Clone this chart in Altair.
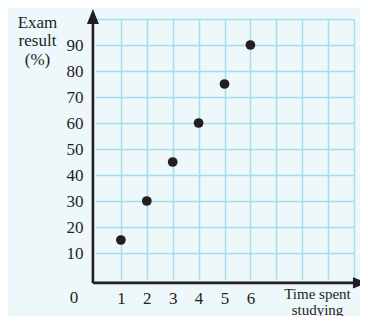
import altair as alt
import pandas as pd

# data
hours = [1, 2, 3, 4, 5, 6]
scores = [15, 30, 45, 60, 75, 90]
x_grid = [1, 2, 3, 4, 5, 6, 7, 8, 9, 10]
y_grid = [10, 20, 30, 40, 50, 60, 70, 80, 90, 100]
x_labelled_max = 6
y_labelled_max = 90

# axis line extents (data units)
axis_x0 = -0.08
axis_y0 = -1.5
x_arrow = 10.23
y_arrow = 101.0

FONT = "Liberation Serif"
INK = "#231f20"
BG = "#eef7fa"
GRID = "#a6dcf0"

pts = pd.DataFrame({"hours": hours, "score": scores})

x_scale = alt.Scale(domain=[0, 10], nice=False, zero=False)
y_scale = alt.Scale(domain=[0, 100], nice=False, zero=False)

x_axis = alt.Axis(
    values=x_grid, grid=True, gridColor=GRID, gridWidth=1.5, domain=False,
    ticks=False, tickSize=0, labelPadding=11, labelFont=FONT, labelFontSize=17,
    labelColor=INK, labelExpr=f"datum.value <= {x_labelled_max} ? datum.label : ''",
    title=["Time spent", "studying"], titleFont=FONT, titleFontSize=15,
    titleFontWeight="normal", titleColor=INK, titleX=222, titleY=19.5,
    titleAlign="center", titleBaseline="alphabetic", titleLineHeight=15.5,
    labelFlush=False, labelOverlap=False,
)
y_axis = alt.Axis(
    values=y_grid, grid=True, gridColor=GRID, gridWidth=1.5, domain=False,
    ticks=False, tickSize=0, labelPadding=12, labelFont=FONT, labelFontSize=17,
    labelColor=INK, labelExpr=f"datum.value <= {y_labelled_max} ? datum.label : ''",
    title=["Exam", "result", "(%)"], titleFont=FONT, titleFontSize=17,
    titleFontWeight="normal", titleColor=INK, titleAngle=0, titleX=-58,
    titleY=8, titleAlign="center", titleBaseline="alphabetic",
    titleLineHeight=18.5, labelFlush=False, labelOverlap=False,
)


def enc_x(field):
    return alt.X(field, scale=x_scale, axis=x_axis)


def enc_y(field):
    return alt.Y(field, scale=y_scale, axis=y_axis)


points = alt.Chart(pts).mark_point(
    filled=True, size=95, color=INK, opacity=1, shape="circle"
).encode(x=enc_x("hours:Q"), y=enc_y("score:Q"))

axes_df = pd.DataFrame({
    "hours": [axis_x0, axis_x0],
    "x2": [x_arrow, axis_x0],
    "score": [axis_y0, axis_y0],
    "y2": [axis_y0, y_arrow - 0.5],
})
axis_lines = alt.Chart(axes_df).mark_rule(color=INK, strokeWidth=2.6).encode(
    x=enc_x("hours:Q"), x2="x2:Q", y=enc_y("score:Q"), y2="y2:Q",
)

up_arrow = alt.Chart(pd.DataFrame({"hours": [axis_x0], "score": [y_arrow]})).mark_point(
    shape="M-0.8,1L0,-1L0.8,1Z", size=225, filled=True, color=INK, opacity=1
).encode(x=enc_x("hours:Q"), y=enc_y("score:Q"))

right_arrow = alt.Chart(pd.DataFrame({"hours": [x_arrow], "score": [axis_y0]})).mark_point(
    shape="M-1,-0.8L1,0L-1,0.8Z", size=196, filled=True, color=INK, opacity=1
).encode(x=enc_x("hours:Q"), y=enc_y("score:Q"))

zero_label = alt.Chart(pd.DataFrame({"hours": [0], "score": [0], "t": ["0"]})).mark_text(
    font=FONT, fontSize=17, color=INK, dx=-21, dy=24, align="center",
    baseline="alphabetic"
).encode(x=enc_x("hours:Q"), y=enc_y("score:Q"), text="t:N")

chart = alt.layer(points, axis_lines, up_arrow, right_arrow, zero_label).properties(
    width=259, height=260,
    autosize=alt.AutoSizeParams(type="none"),
    padding={"left": 87, "top": 11, "right": 6, "bottom": 37},
    background=BG,
).configure_view(stroke=None)

chart.save("out.html", embed_options={"renderer": "svg", "actions": False})
